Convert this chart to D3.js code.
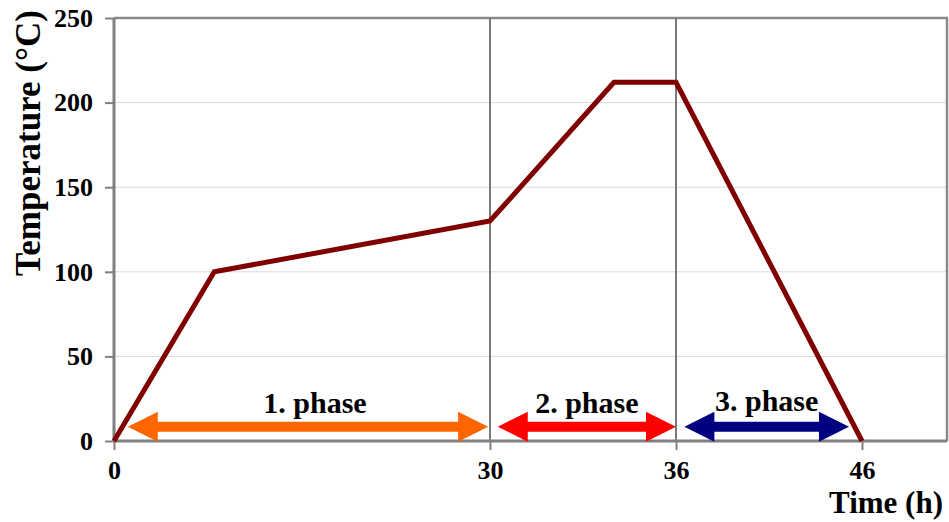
<!DOCTYPE html>
<html>
<head>
<meta charset="utf-8">
<script src="https://cdn.jsdelivr.net/npm/d3@7"></script>
<style>
  html, body { margin: 0; padding: 0; background: #fff; }
  svg { display: block; }
  text { font-family: "Liberation Serif", "Times New Roman", serif; font-weight: bold; fill: #000; }
</style>
</head>
<body>
<svg id="chart" width="949" height="522"></svg>
<script>
// ---- data ----
const timeHours = [0, 8, 30, 34, 36, 46];
const temperature = [0, 100, 130, 212, 212, 0];
const xTickValues = [0, 30, 36, 46];
const yTickValues = [0, 50, 100, 150, 200, 250];
const phaseLabels = ["1. phase", "2. phase", "3. phase"];
const phaseStart = [1.1, 30.25, 36.45];
const phaseEnd = [29.85, 36.0, 45.3];
const phaseColors = ["#FF6600", "#FF0000", "#000080"];
const dividerTimes = [30, 36];

// ---- layout ----
const plotL = 114, plotR = 947, plotT = 18, plotB = 441;
const svg = d3.select("#chart");

// x axis is piecewise (segments are not drawn to a common scale in the original)
const x = d3.scaleLinear()
  .domain([0, 30, 36, 46, 50.57])
  .range([plotL, 490, 676, 862, plotR]);
const y = d3.scaleLinear().domain([0, 250]).range([plotB, plotT]);

// gridlines
svg.append("g").selectAll("line").data(yTickValues.filter(v => v > 0 && v < 250)).join("line")
  .attr("x1", plotL).attr("x2", plotR)
  .attr("y1", d => y(d)).attr("y2", d => y(d))
  .attr("stroke", "#dadada").attr("stroke-width", 1);

// plot frame (top + right)
svg.append("path")
  .attr("d", `M${plotL},${y(250)}H${plotR}V${y(0)}`)
  .attr("fill", "none").attr("stroke", "#8a8a8a").attr("stroke-width", 2.5);

// phase dividers
svg.append("g").selectAll("line").data(dividerTimes).join("line")
  .attr("x1", d => x(d)).attr("x2", d => x(d))
  .attr("y1", y(250)).attr("y2", y(0))
  .attr("stroke", "#7a7a7a").attr("stroke-width", 2);

// axes
const yAxis = d3.axisLeft(y).tickValues(yTickValues).tickSize(9).tickPadding(12).tickFormat(d3.format("d"));
const xAxis = d3.axisBottom(x).tickValues(xTickValues).tickSize(9).tickPadding(11).tickFormat(d3.format("d"));

const gy = svg.append("g").attr("transform", `translate(${plotL},0)`).call(yAxis);
const gx = svg.append("g").attr("transform", `translate(0,${plotB})`).call(xAxis);
[gx, gy].forEach(g => {
  g.select(".domain").attr("stroke", "#808080").attr("stroke-width", 3);
  g.selectAll(".tick line").attr("stroke", "#808080").attr("stroke-width", 2);
  g.selectAll(".tick text")
    .style("font-family", "'Liberation Serif', serif")
    .style("font-weight", "bold")
    .style("font-size", "26px")
    .attr("fill", "#000");
});
gx.select(".domain").attr("d", `M${plotL},0H${plotR}`);
gy.select(".domain").attr("d", `M0,${plotB}V${plotT}`);

// phase arrows
const arrowY = 426.7;
const headLen = 30, headHalf = 15, shaftHalf = 5;
const arrows = svg.append("g");
phaseLabels.forEach((lab, i) => {
  const x0 = x(phaseStart[i]), x1 = x(phaseEnd[i]);
  const p = d3.path();
  p.moveTo(x0, arrowY);
  p.lineTo(x0 + headLen, arrowY - headHalf);
  p.lineTo(x0 + headLen, arrowY - shaftHalf);
  p.lineTo(x1 - headLen, arrowY - shaftHalf);
  p.lineTo(x1 - headLen, arrowY - headHalf);
  p.lineTo(x1, arrowY);
  p.lineTo(x1 - headLen, arrowY + headHalf);
  p.lineTo(x1 - headLen, arrowY + shaftHalf);
  p.lineTo(x0 + headLen, arrowY + shaftHalf);
  p.lineTo(x0 + headLen, arrowY + headHalf);
  p.closePath();
  arrows.append("path").attr("d", p.toString()).attr("fill", phaseColors[i]);
});

// temperature line
const line = d3.line().x((d, i) => x(timeHours[i])).y(d => y(d));
svg.append("path").datum(temperature)
  .attr("d", line)
  .attr("fill", "none").attr("stroke", "#800000").attr("stroke-width", 5)
  .attr("stroke-linejoin", "miter");

// phase labels
const labelBase = [413, 413, 411];
svg.append("g").selectAll("text").data(phaseLabels).join("text")
  .attr("x", (d, i) => (x(phaseStart[i]) + x(phaseEnd[i])) / 2 + (i === 0 ? 7 : 0))
  .attr("y", (d, i) => labelBase[i])
  .attr("text-anchor", "middle")
  .style("font-size", "30px")
  .text(d => d);

// axis titles
svg.append("text")
  .attr("x", 943).attr("y", 513)
  .attr("text-anchor", "end")
  .style("font-size", "31px")
  .text("Time (h)");

svg.append("text")
  .attr("transform", "translate(40,143) rotate(-90)")
  .attr("text-anchor", "middle")
  .style("font-size", "35px")
  .text("Temperature (°C)");
</script>
</body>
</html>
